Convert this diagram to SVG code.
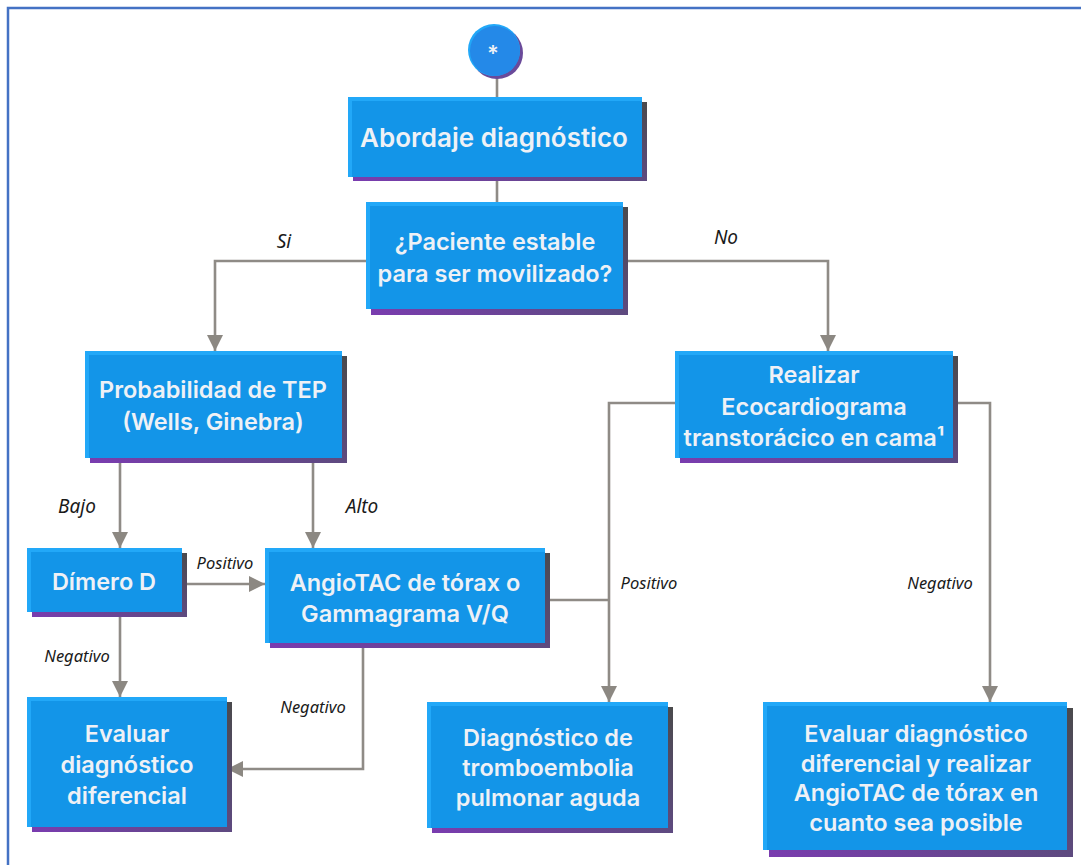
<svg xmlns="http://www.w3.org/2000/svg" width="1081" height="865" viewBox="0 0 1081 865">
<defs>
<linearGradient id="sh" x1="1" y1="0" x2="0" y2="1">
<stop offset="0" stop-color="#4a4a4c"/>
<stop offset="0.5" stop-color="#5e4a80"/>
<stop offset="1" stop-color="#7a3cb0"/>
</linearGradient>
<marker id="ah" markerUnits="userSpaceOnUse" markerWidth="18" markerHeight="16" viewBox="0 0 18 16" refX="16" refY="8" orient="auto">
<path d="M0,0 L16,8 L0,16 z" fill="#8c8882"/>
</marker>
<style>
.sh{fill:url(#sh)}
.ed{fill:#22a8f8}
.bx{fill:#1395e8}
.t{font-family:Inter,"Noto Sans",sans-serif;font-weight:600;font-size:23.5px;fill:#eef1f6;text-anchor:middle}
.c{fill:none;stroke:#8f8b86;stroke-width:2.6}
.l{font-family:"Noto Sans",Lato,sans-serif;font-style:italic;fill:#1a1a1a;text-anchor:middle}
.lb{font-size:19px}
.ls{font-size:16.5px}
</style>
</defs>
<rect x="8" y="8" width="1090" height="870" fill="none" stroke="#4472c4" stroke-width="2.5"/>
<g id="connectors">
<path class="c" d="M497,77 V97"/>
<path class="c" d="M497,177 V202"/>
<path class="c" d="M366,261 H215 V351" marker-end="url(#ah)"/>
<path class="c" d="M623,261 H828 V351" marker-end="url(#ah)"/>
<path class="c" d="M120,457 V548" marker-end="url(#ah)"/>
<path class="c" d="M313,457 V548" marker-end="url(#ah)"/>
<path class="c" d="M182,584 H265" marker-end="url(#ah)"/>
<path class="c" d="M120,612 V697" marker-end="url(#ah)"/>
<path class="c" d="M363,643 V769 H227" marker-end="url(#ah)"/>
<path class="c" d="M545,600 H609"/>
<path class="c" d="M675,403 H609 V702" marker-end="url(#ah)"/>
<path class="c" d="M953,403 H990 V702" marker-end="url(#ah)"/>
<text class="l lb" x="284" y="248">Si</text>
<text class="l lb" x="726" y="244">No</text>
<text class="l lb" x="77" y="513">Bajo</text>
<text class="l lb" x="362" y="513">Alto</text>
<text class="l ls" x="225" y="569">Positivo</text>
<text class="l ls" x="649" y="589">Positivo</text>
<text class="l ls" x="77" y="662">Negativo</text>
<text class="l ls" x="313" y="713">Negativo</text>
<text class="l ls" x="940" y="589">Negativo</text>
</g>
<g id="start">
<circle cx="497" cy="53" r="26" fill="#6a4a9a"/>
<circle cx="494" cy="50" r="26" fill="#22a8f8"/>
<circle cx="495" cy="51" r="25" fill="#2489e8"/>
<text class="t" x="493" y="61" style="font-size:22px">*</text>
</g>
<g id="abordaje">
<rect class="sh" x="353" y="102" width="294" height="79"/>
<rect class="ed" x="348" y="97" width="294" height="80"/>
<rect class="bx" x="352" y="101" width="290" height="76"/>
<text class="t" x="494" y="147" style="font-size:26px">Abordaje diagnóstico</text>
</g>
<g id="paciente">
<rect class="sh" x="371" y="207" width="257" height="108"/>
<rect class="ed" x="366" y="202" width="257" height="107"/>
<rect class="bx" x="370" y="206" width="253" height="103"/>
<text class="t" x="495" y="250">¿Paciente estable</text>
<text class="t" x="495" y="282">para ser movilizado?</text>
</g>
<g id="probabilidad">
<rect class="sh" x="90" y="356" width="257" height="107"/>
<rect class="ed" x="85" y="351" width="257" height="107"/>
<rect class="bx" x="89" y="355" width="253" height="103"/>
<text class="t" x="213" y="398">Probabilidad de TEP</text>
<text class="t" x="213" y="430">(Wells, Ginebra)</text>
</g>
<g id="realizar">
<rect class="sh" x="680" y="356" width="278" height="107"/>
<rect class="ed" x="675" y="351" width="278" height="107"/>
<rect class="bx" x="679" y="355" width="274" height="103"/>
<text class="t" x="814" y="383">Realizar</text>
<text class="t" x="814" y="415">Ecocardiograma</text>
<text class="t" x="814" y="446">transtorácico en cama¹</text>
</g>
<g id="dimero">
<rect class="sh" x="32" y="553" width="155" height="64"/>
<rect class="ed" x="27" y="548" width="155" height="64"/>
<rect class="bx" x="31" y="552" width="151" height="60"/>
<text class="t" x="104" y="590">Dímero D</text>
</g>
<g id="angiotac">
<rect class="sh" x="270" y="553" width="280" height="95"/>
<rect class="ed" x="265" y="548" width="280" height="95"/>
<rect class="bx" x="269" y="552" width="276" height="91"/>
<text class="t" x="405" y="591">AngioTAC de tórax o</text>
<text class="t" x="405" y="622">Gammagrama V/Q</text>
</g>
<g id="evaluar1">
<rect class="sh" x="32" y="702" width="200" height="130"/>
<rect class="ed" x="27" y="697" width="200" height="130"/>
<rect class="bx" x="31" y="701" width="196" height="126"/>
<text class="t" x="127" y="742">Evaluar</text>
<text class="t" x="127" y="773">diagnóstico</text>
<text class="t" x="127" y="804">diferencial</text>
</g>
<g id="tromboembolia">
<rect class="sh" x="432" y="707" width="241" height="126"/>
<rect class="ed" x="427" y="702" width="241" height="126"/>
<rect class="bx" x="431" y="706" width="237" height="122"/>
<text class="t" x="548" y="746">Diagnóstico de</text>
<text class="t" x="548" y="776">tromboembolia</text>
<text class="t" x="548" y="806">pulmonar aguda</text>
</g>
<g id="evaluar2">
<rect class="sh" x="769" y="708" width="304" height="149"/>
<rect class="ed" x="763" y="702" width="304" height="148"/>
<rect class="bx" x="767" y="706" width="300" height="144"/>
<text class="t" x="916" y="742">Evaluar diagnóstico</text>
<text class="t" x="916" y="772">diferencial y realizar</text>
<text class="t" x="916" y="801">AngioTAC de tórax en</text>
<text class="t" x="916" y="831">cuanto sea posible</text>
</g>
</svg>
